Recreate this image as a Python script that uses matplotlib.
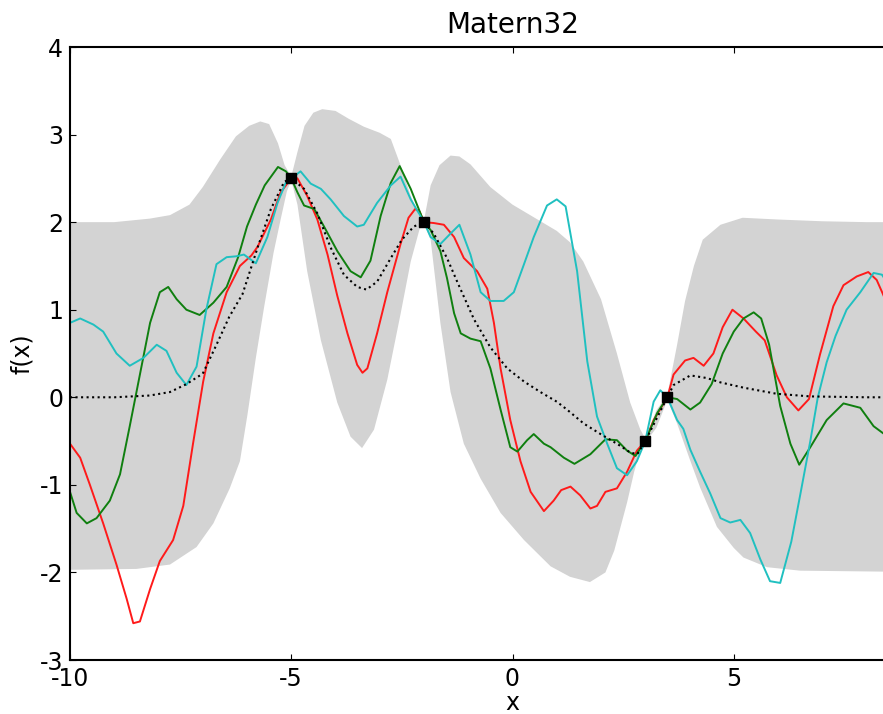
import numpy as np
import matplotlib
matplotlib.use("Agg")
import matplotlib.pyplot as plt

plt.rcParams['axes.unicode_minus'] = False
plt.rcParams['font.family'] = 'DejaVu Sans'

# training points
obs_x = [-5.0, -2.0, 3.0, 3.5]
obs_y = [2.5, 2.0, -0.5, 0.0]

# posterior mean (dotted)
mean_x = [-10, -9, -8.2, -7.74, -7.37, -7.0, -6.69, -6.4, -6.1, -5.76, -5.46, -5.16, -5.0,
          -4.71, -4.41, -4.11, -3.81, -3.51, -3.3, -3.06, -2.75, -2.5, -2.23, -2.0,
          -1.78, -1.48, -1.25, -0.87, -0.5, -0.12, 0.26, 0.63, 1.0, 1.23, 1.61, 1.99,
          2.36, 2.66, 2.82, 3.0, 3.25, 3.5, 3.64, 4.02, 4.39, 4.7, 5.22, 5.97, 6.73, 8.0, 10.0]
mean_y = [0.0, 0.0, 0.02, 0.06, 0.15, 0.27, 0.6, 0.92, 1.18, 1.71, 2.15, 2.46, 2.5,
          2.38, 2.1, 1.71, 1.4, 1.26, 1.23, 1.32, 1.59, 1.8, 1.95, 2.0,
          1.87, 1.59, 1.32, 0.89, 0.57, 0.33, 0.18, 0.06, -0.05, -0.14, -0.3, -0.42,
          -0.53, -0.63, -0.65, -0.5, -0.25, 0.0, 0.14, 0.25, 0.22, 0.17, 0.11, 0.04, 0.01, 0.0, 0.0]

# confidence band edges
upper_x = [-10, -9.0, -8.2, -7.74, -7.3, -7.0, -6.6, -6.25, -5.95, -5.7, -5.5, -5.3, -5.15, -5.0,
           -4.86, -4.7, -4.5, -4.3, -4.0, -3.7, -3.36, -3.0, -2.75, -2.53, -2.3, -2.12, -2.0,
           -1.85, -1.65, -1.4, -1.2, -0.95, -0.5, 0.0, 0.5, 1.0, 1.3, 1.6, 2.0, 2.36, 2.66,
           2.89, 3.0, 3.25, 3.5, 3.72, 3.9, 4.1, 4.3, 4.7, 5.2, 6.0, 7.0, 8.0, 10.0]
upper_y = [2.0, 2.0, 2.04, 2.08, 2.2, 2.4, 2.72, 2.98, 3.1, 3.15, 3.12, 2.9, 2.65, 2.52,
           2.8, 3.1, 3.25, 3.29, 3.27, 3.18, 3.09, 3.02, 2.95, 2.65, 2.3, 2.08, 2.02,
           2.42, 2.65, 2.76, 2.75, 2.66, 2.4, 2.2, 2.05, 1.9, 1.77, 1.55, 1.12, 0.5, -0.06,
           -0.37, -0.47, -0.15, 0.03, 0.6, 1.1, 1.5, 1.8, 1.97, 2.05, 2.03, 2.01, 2.0, 2.0]
lower_x = [-10, -8.5, -7.74, -7.14, -6.76, -6.39, -6.16, -5.99, -5.8, -5.61, -5.4, -5.24, -5.1, -5.0,
           -4.86, -4.64, -4.33, -3.96, -3.66, -3.4, -3.13, -2.83, -2.53, -2.3, -2.1, -2.0,
           -1.85, -1.63, -1.4, -1.1, -0.72, -0.27, 0.26, 0.86, 1.3, 1.75, 2.1, 2.3, 2.59,
           2.75, 2.89, 3.0, 3.25, 3.5, 3.72, 4.0, 4.24, 4.62, 5.0, 5.22, 5.75, 6.5, 10.0]
lower_y = [-1.97, -1.96, -1.91, -1.71, -1.44, -1.04, -0.73, -0.2, 0.45, 1.04, 1.65, 2.03, 2.35, 2.48,
           2.2, 1.44, 0.65, -0.06, -0.45, -0.58, -0.37, 0.2, 0.95, 1.55, 1.92, 1.98,
           1.8, 0.85, 0.06, -0.53, -0.93, -1.32, -1.63, -1.93, -2.05, -2.11, -2.0, -1.75, -1.2,
           -0.85, -0.6, -0.52, -0.35, -0.03, -0.3, -0.7, -1.03, -1.48, -1.72, -1.83, -1.94, -1.98, -2.0]

# posterior samples
red_x = [-10, -9.77, -9.55, -9.25, -8.95, -8.72, -8.57, -8.42, -8.19, -7.97, -7.67, -7.44, -7.22,
         -6.99, -6.76, -6.46, -6.16, -5.9, -5.76, -5.46, -5.24, -5.0, -4.86, -4.64, -4.41, -4.18,
         -3.96, -3.73, -3.51, -3.39, -3.28, -3.06, -2.83, -2.53, -2.35, -2.2, -2.1, -2.0, -1.78,
         -1.55, -1.32, -1.1, -0.8, -0.57, -0.42, -0.27, -0.05, 0.18, 0.41, 0.71, 0.93, 1.1, 1.31,
         1.53, 1.76, 1.91, 2.1, 2.36, 2.59, 2.81, 3.0, 3.19, 3.5, 3.64, 3.9, 4.09, 4.32, 4.54,
         4.75, 4.97, 5.22, 5.5, 5.7, 5.97, 6.2, 6.46, 6.7, 6.95, 7.25, 7.48, 7.78, 8.04, 8.23,
         8.37, 8.6]
red_y = [-0.53, -0.69, -1.0, -1.44, -1.91, -2.3, -2.58, -2.56, -2.19, -1.87, -1.63, -1.24, -0.53,
         0.18, 0.73, 1.2, 1.5, 1.62, 1.72, 2.03, 2.34, 2.5, 2.5, 2.3, 2.03, 1.63,
         1.16, 0.73, 0.37, 0.28, 0.33, 0.73, 1.2, 1.75, 2.05, 2.15, 2.12, 2.0, 1.99,
         1.97, 1.83, 1.59, 1.44, 1.24, 0.85, 0.33, -0.26, -0.73, -1.08, -1.3, -1.18, -1.06, -1.02,
         -1.12, -1.27, -1.24, -1.08, -1.04, -0.85, -0.61, -0.5, -0.26, 0.0, 0.26, 0.42, 0.45, 0.36, 0.5,
         0.8, 1.0, 0.9, 0.75, 0.65, 0.25, 0.0, -0.15, -0.02, 0.49, 1.04, 1.28, 1.38, 1.43, 1.34,
         1.18, 0.9]

green_x = [-10, -9.85, -9.62, -9.4, -9.1, -8.87, -8.65, -8.42, -8.19, -7.97, -7.78, -7.59, -7.37,
           -7.07, -6.76, -6.46, -6.2, -6.0, -5.8, -5.6, -5.3, -5.12, -5.0, -4.86, -4.71, -4.48,
           -4.26, -3.96, -3.66, -3.43, -3.21, -2.98, -2.75, -2.55, -2.3, -2.08, -2.0, -1.85, -1.63,
           -1.48, -1.32, -1.17, -0.95, -0.72, -0.5, -0.27, -0.05, 0.11, 0.33, 0.48, 0.71, 0.86,
           1.16, 1.4, 1.76, 2.1, 2.36, 2.59, 2.78, 3.0, 3.27, 3.5, 3.72, 4.02, 4.24, 4.5, 4.75,
           5.0, 5.22, 5.45, 5.62, 5.8, 6.05, 6.28, 6.48, 6.73, 7.1, 7.48, 7.86, 8.16, 8.4, 8.6]
green_y = [-1.08, -1.32, -1.44, -1.38, -1.18, -0.88, -0.33, 0.26, 0.85, 1.2, 1.26, 1.12, 1.0,
           0.94, 1.08, 1.26, 1.6, 1.95, 2.2, 2.42, 2.63, 2.58, 2.5, 2.34, 2.19, 2.15,
           1.95, 1.67, 1.44, 1.37, 1.56, 2.07, 2.45, 2.64, 2.38, 2.1, 2.0, 1.91, 1.67,
           1.36, 0.96, 0.73, 0.67, 0.64, 0.33, -0.14, -0.57, -0.62, -0.49, -0.42, -0.53, -0.57,
           -0.69, -0.76, -0.65, -0.48, -0.49, -0.61, -0.67, -0.5, -0.18, 0.0, -0.02, -0.14, -0.06, 0.15, 0.5,
           0.75, 0.9, 0.97, 0.9, 0.6, -0.1, -0.53, -0.77, -0.57, -0.26, -0.07, -0.12, -0.33, -0.42, -0.4]

cyan_x = [-10, -9.77, -9.47, -9.25, -8.95, -8.65, -8.34, -8.04, -7.82, -7.59, -7.37, -7.14, -6.92,
          -6.69, -6.46, -6.24, -6.07, -5.8, -5.54, -5.31, -5.1, -5.0, -4.79, -4.56, -4.33, -4.11,
          -3.81, -3.51, -3.36, -3.06, -2.75, -2.53, -2.3, -2.08, -2.0, -1.85, -1.63, -1.4, -1.2,
          -0.95, -0.72, -0.5, -0.2, 0.03, 0.26, 0.48, 0.78, 1.0, 1.2, 1.46, 1.69, 1.91, 2.14,
          2.36, 2.59, 2.81, 3.0, 3.19, 3.34, 3.5, 3.72, 3.86, 4.02, 4.24, 4.47, 4.7, 4.92, 5.15,
          5.37, 5.6, 5.82, 6.05, 6.3, 6.5, 6.73, 6.9, 7.1, 7.3, 7.55, 7.86, 8.16, 8.35, 8.6]
cyan_y = [0.85, 0.9, 0.83, 0.75, 0.5, 0.36, 0.45, 0.6, 0.53, 0.28, 0.14, 0.35, 1.0,
          1.52, 1.6, 1.61, 1.63, 1.53, 1.83, 2.22, 2.48, 2.5, 2.58, 2.44, 2.38, 2.26,
          2.07, 1.95, 1.97, 2.22, 2.42, 2.52, 2.26, 2.07, 2.0, 1.83, 1.75, 1.87, 1.97,
          1.63, 1.2, 1.1, 1.1, 1.2, 1.52, 1.83, 2.19, 2.26, 2.18, 1.44, 0.41, -0.22, -0.53,
          -0.81, -0.89, -0.73, -0.5, -0.05, 0.08, 0.0, -0.26, -0.36, -0.6, -0.85, -1.1, -1.38, -1.43, -1.4,
          -1.55, -1.85, -2.1, -2.12, -1.65, -1.12, -0.5, 0.0, 0.4, 0.7, 1.0, 1.2, 1.42, 1.4, 1.2]

x_ticks = [-10, -5, 0, 5]
y_ticks = [-3, -2, -1, 0, 1, 2, 3, 4]

fig = plt.figure(figsize=(8.83, 7.14), dpi=100)
# the original image is cropped on the right, so the axes run past the figure edge
ax = fig.add_axes([70/883, 1 - 660/714, 885/883, 613/714])

band_x = np.concatenate([upper_x, lower_x[::-1]])
band_y = np.concatenate([upper_y, lower_y[::-1]])
ax.fill(band_x, band_y, color='#d3d3d3', lw=0)

ax.plot(red_x, red_y, color='#ff1a1a', lw=1.4)
ax.plot(green_x, green_y, color='#0f7f0f', lw=1.4)
ax.plot(cyan_x, cyan_y, color='#20c0c0', lw=1.4)
ax.plot(mean_x, mean_y, 'k:', lw=1.5)
ax.plot(obs_x, obs_y, 'ks', ms=7)

ax.set_xlim(-10, 10)
ax.set_ylim(-3, 4)
ax.set_xticks(x_ticks)
ax.set_yticks(y_ticks)
ax.tick_params(direction='in', length=4, width=0.8, top=True, right=True,
               labelsize=17, pad=5)
for s in ax.spines.values():
    s.set_linewidth(1.5)

ax.set_title('Matern32', fontsize=20, pad=10)
ax.set_xlabel('x', fontsize=17, labelpad=0)
ax.set_ylabel('f(x)', fontsize=17, labelpad=4)

fig.savefig('out.png', dpi=100)
